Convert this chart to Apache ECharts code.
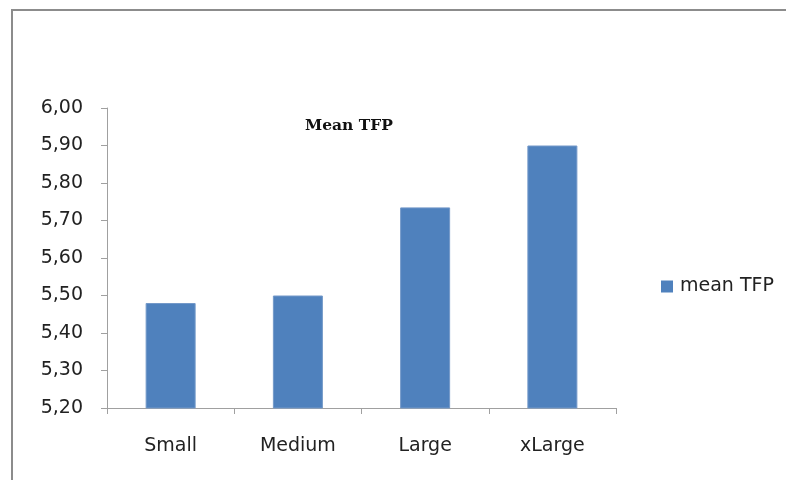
<!DOCTYPE html>
<html>
<head>
<meta charset="utf-8">
<script src="https://cdn.jsdelivr.net/npm/echarts@6/dist/echarts.min.js"></script>
<style>
  html, body { margin: 0; padding: 0; background: #fff; }
  #chart { width: 786px; height: 480px; }
</style>
</head>
<body>
<div id="chart"></div>
<script>
var categories = ['Small', 'Medium', 'Large', 'xLarge'];
var meanTFP = [5.48, 5.50, 5.735, 5.90];
var yMin = 5.2, yMax = 6.0, yStep = 0.1;

var chart = echarts.init(document.getElementById('chart'));
var option = {
    animation: false,
    title: {
        text: 'Mean TFP',
        left: 344,
        top: 113,
        textAlign: 'center',
        textStyle: { fontFamily: 'DejaVu Serif', fontSize: 15.5, fontWeight: 'bold', color: '#111' }
    },
    legend: {
        data: ['mean TFP'],
        left: 656,
        top: 272,
        itemWidth: 12,
        itemHeight: 12,
        itemGap: 8,
        itemStyle: { borderWidth: 0 },
        icon: 'rect',
        textStyle: { fontFamily: 'DejaVu Sans', fontSize: 19, color: '#222', padding: [0, 0, 0, 2] }
    },
    grid: { left: 107, right: 170, top: 108, bottom: 72 },
    xAxis: {
        type: 'category',
        data: categories,
        axisLine: { lineStyle: { color: '#a0a0a0', width: 1 } },
        axisTick: { show: true, length: 6, lineStyle: { color: '#a0a0a0' } },
        axisLabel: { margin: 29, fontFamily: 'DejaVu Sans', fontSize: 19, color: '#222' }
    },
    yAxis: {
        type: 'value',
        min: yMin,
        max: yMax,
        interval: yStep,
        axisLine: { show: true, lineStyle: { color: '#a0a0a0', width: 1 } },
        axisTick: { show: true, length: 6, lineStyle: { color: '#a0a0a0' } },
        splitLine: { show: false },
        axisLabel: {
            margin: 24,
            fontFamily: 'DejaVu Sans', fontSize: 19, color: '#222',
            formatter: function (v) { return v.toFixed(2).replace('.', ','); }
        }
    },
    series: [{
        name: 'mean TFP',
        type: 'bar',
        data: meanTFP,
        barWidth: 50,
        itemStyle: { color: '#4f81bd', borderColor: '#7499c9', borderWidth: 1 }
    }],
    graphic: [{
        type: 'polyline',
        shape: { points: [[12, 480], [12, 10], [786, 10]] },
        style: { stroke: '#8c8c8c', lineWidth: 2, fill: null }
    }]
};
chart.setOption(option);
</script>
</body>
</html>
